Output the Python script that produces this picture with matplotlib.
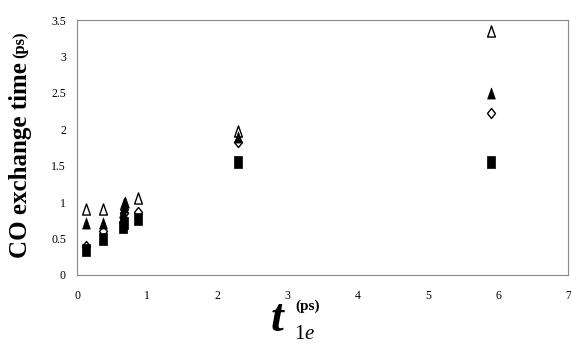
import matplotlib
matplotlib.use("Agg")
import matplotlib.pyplot as plt
from matplotlib.path import Path

# Data
x_open_tri = [0.13, 0.37, 0.67, 0.87, 2.3, 5.9]
y_open_tri = [0.90, 0.90, 0.97, 1.06, 1.98, 3.35]

x_fill_tri = [0.13, 0.37, 0.65, 0.66, 0.67, 0.68, 2.3, 5.9]
y_fill_tri = [0.72, 0.72, 0.80, 0.87, 0.93, 1.00, 1.90, 2.50]

x_diamond = [0.13, 0.37, 0.67, 0.87, 2.3, 5.9]
y_diamond = [0.40, 0.60, 0.85, 0.87, 1.82, 2.22]

x_square = [0.13, 0.37, 0.66, 0.67, 0.87, 2.3, 5.9]
y_square = [0.35, 0.50, 0.66, 0.72, 0.77, 1.55, 1.55]

x_ticks = [0, 1, 2, 3, 4, 5, 6, 7]
y_ticks = [0, 0.5, 1, 1.5, 2, 2.5, 3, 3.5]
y_ticklabels = ["0", "0.5", "1", "1.5", "2", "2.5", "3", "3.5"]

plt.rcParams['font.family'] = ['Liberation Serif', 'DejaVu Serif']

tri_m = Path([(-0.7, -1), (0.7, -1), (0, 1), (-0.7, -1)], closed=True)
sq_m = Path([(-0.75, -1), (0.75, -1), (0.75, 1), (-0.75, 1), (-0.75, -1)], closed=True)
dia_m = Path([(0, -1), (0.8, 0), (0, 1), (-0.8, 0), (0, -1)], closed=True)

fig = plt.figure(figsize=(5.71, 3.47), dpi=100)
ax = fig.add_axes([0.135, 0.2075, 0.86, 0.7345])

ax.plot(x_open_tri, y_open_tri, linestyle='none', marker=tri_m, ms=8, mfc='white', mec='black', mew=1, zorder=2)
ax.plot(x_diamond, y_diamond, linestyle='none', marker=dia_m, ms=7.2, mfc='white', mec='black', mew=1, zorder=3)
ax.plot(x_square, y_square, linestyle='none', marker=sq_m, ms=8.6, mfc='black', mec='black', mew=0.5, zorder=4)
ax.plot(x_fill_tri, y_fill_tri, linestyle='none', marker=tri_m, ms=8, mfc='black', mec='black', mew=0.5, zorder=5)

ax.set_xlim(0, 7)
ax.set_ylim(0, 3.5)
ax.set_xticks(x_ticks)
ax.set_xticklabels([str(v) for v in x_ticks])
ax.set_yticks(y_ticks)
ax.set_yticklabels(y_ticklabels)
ax.tick_params(axis='x', length=0, labelsize=8.5, pad=11)
ax.tick_params(axis='y', length=0, labelsize=8.5, pad=8)
for s in ax.spines.values():
    s.set_color('#888888')
    s.set_linewidth(0.8)

# Y label: two parts
fig.canvas.draw()
r = fig.canvas.get_renderer()
t1 = fig.text(0.036, 0.256, "CO exchange time", rotation=90, fontsize=18,
              fontweight='bold', ha='center', va='bottom')
fig.canvas.draw()
bb = t1.get_window_extent(r)
top = bb.y1 / fig.bbox.height
fig.text(0.036, top + 0.012, "(ps)", rotation=90, fontsize=12,
         fontweight='bold', ha='center', va='bottom')

# X label: t, subscript 1e, superscript (ps)
H = 347.0
W = 571.0
fig.text(271 / W, 1 - 331 / H, "t", fontsize=33, fontweight='bold', fontstyle='italic',
         ha='left', va='baseline')
fig.text(294 / W, 1 - 339 / H, "1", fontsize=15, ha='left', va='baseline')
fig.text(304 / W, 1 - 339 / H, "e", fontsize=15, fontstyle='italic', ha='left', va='baseline')
fig.text(295 / W, 1 - 310 / H, "(ps)", fontsize=11, fontweight='bold', ha='left', va='baseline')

fig.savefig("out.png", dpi=100)
